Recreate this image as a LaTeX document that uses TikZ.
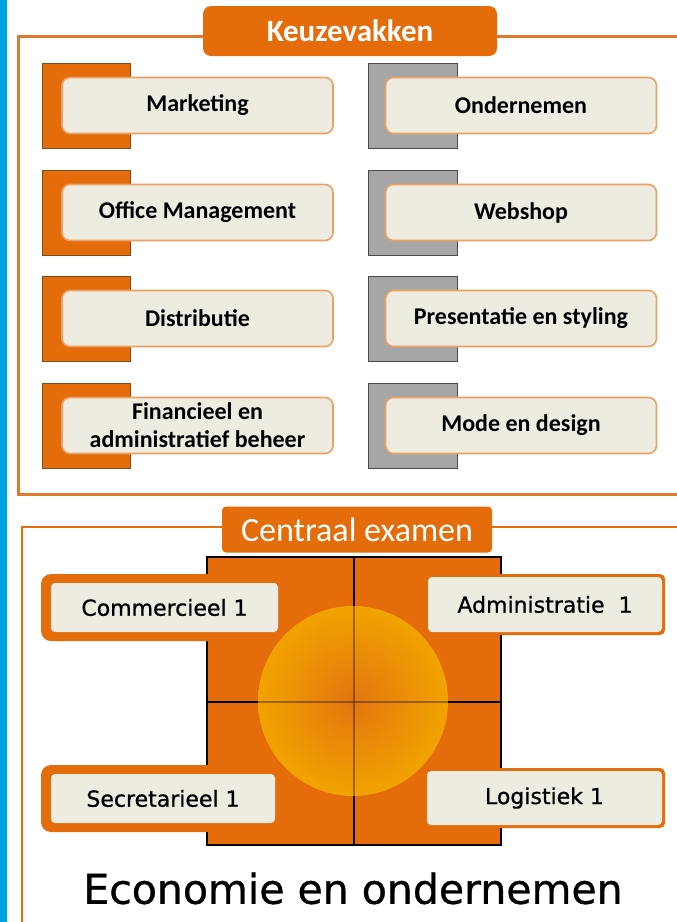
\documentclass[tikz,border=0pt]{standalone}
\usepackage{fontspec}
\newfontfamily\calibrifont{Carlito}
\newfontfamily\tahomafont[FakeBold=0.8]{DejaVu Sans}
\usetikzlibrary{positioning}
\definecolor{oranje}{HTML}{E46C0A}
\definecolor{kaderoranje}{HTML}{E3792A}
\definecolor{randoranje}{HTML}{EBA064}
\definecolor{bruin}{HTML}{7F4A1E}
\definecolor{grijs}{HTML}{A6A6A6}
\definecolor{donkergrijs}{HTML}{4A4A4A}
\definecolor{zand}{HTML}{EEECE1}
\definecolor{blauw}{HTML}{00A3E0}
\definecolor{amber}{HTML}{F2A300}
\definecolor{kern}{HTML}{E27510}

\begin{document}
\begin{tikzpicture}[x=1pt,y=-1pt,
    kader/.style={draw=kaderoranje,line width=3pt},
    kop/.style={fill=oranje,text=white,rounded corners=8pt,inner sep=0pt},
    vak/.style={draw=randoranje,line width=1.6pt,fill=zand,rounded corners=8pt,
        minimum width=271pt,minimum height=56pt,align=center,inner sep=0pt,
        font=\calibrifont\bfseries\fontsize{24}{28}\selectfont},
    blokoranje/.style={fill=oranje,draw=bruin,line width=1pt},
    blokgrijs/.style={fill=grijs,draw=donkergrijs,line width=1pt},
    rand/.style={fill=oranje,rounded corners=10pt,inner sep=0pt},
    examen/.style={fill=zand,rounded corners=4pt,inner sep=0pt,
        font=\tahomafont\fontsize{22}{26}\selectfont}]
\useasboundingbox (0,0) rectangle (677,922);
\fill[white] (0,0) rectangle (677,922);
\fill[blauw] (0,0) rectangle (7,922);

% keuzevakken
\draw[kader] (677,36) -- (18,36) -- (18,494) -- (677,494);
\node[kop,minimum width=294pt,minimum height=50pt,font=\calibrifont\bfseries\fontsize{31}{34}\selectfont]
    (keuze) at (350,31) {Keuzevakken};

\draw[blokoranje] (42,63) rectangle (130,148);
\draw[blokoranje] (42,170) rectangle (130,255);
\draw[blokoranje] (42,276) rectangle (130,361);
\draw[blokoranje] (42,383) rectangle (130,468);
\draw[blokgrijs] (368,63) rectangle (457,148);
\draw[blokgrijs] (368,170) rectangle (457,255);
\draw[blokgrijs] (368,276) rectangle (457,361);
\draw[blokgrijs] (368,383) rectangle (457,468);

\node[vak] (marketing) at (197.5,105.5) {Marketing};
\node[vak] (office) at (197.5,212.5) {Office Management};
\node[vak] (distributie) at (197.5,318.5) {Distributie};
\node[vak] (financieel) at (197.5,425.5) {Financieel en\\administratief beheer};
\node[vak] (ondernemen) at (521,105.5) {Ondernemen};
\node[vak] (webshop) at (521,212.5) {Webshop};
\node[vak] (presentatie) at (521,318.5) {Presentatie en styling};
\node[vak] (mode) at (521,425.5) {Mode en design};

% centraal examen
\draw[kader,draw=oranje,line width=2.5pt] (677,527) -- (22,527) -- (22,922);
\node[kop,rounded corners=4pt,minimum width=270pt,minimum height=46pt,font=\calibrifont\fontsize{34}{36}\selectfont]
    (centraal) at (357,529.5) {Centraal examen};

\fill[oranje] (207,557) rectangle (501,845);
\draw[black,line width=2.5pt] (207,557) rectangle (501,845);
\draw[black,line width=2.5pt] (354,557) -- (354,845);
\draw[black,line width=2.5pt] (207,702) -- (501,702);

\node[rand,minimum width=249pt,minimum height=67pt] (commrand) at (165.5,607.5) {};
\node[rand,minimum width=249pt,minimum height=67pt] (secrrand) at (165.5,798.5) {};
\node[rand,rounded corners=5pt,minimum width=245pt,minimum height=61pt] (admrand) at (542.5,604.5) {};
\node[rand,rounded corners=5pt,minimum width=245pt,minimum height=60pt] (logrand) at (542.5,798) {};

\shade[inner color=kern,outer color=amber] (353,701) circle (95pt);
\draw[black,opacity=0.35,line width=2.5pt] (354,606) -- (354,796);
\draw[black,opacity=0.35,line width=2.5pt] (258,702) -- (448,702);

\node[examen,minimum width=227pt,minimum height=49pt] (commercieel) at (164.5,607.5) {Commercieel 1};
\node[examen,minimum width=224pt,minimum height=49pt] (secretarieel) at (163,798.5) {Secretarieel 1};
\node[examen,minimum width=234pt,minimum height=55pt] (administratie) at (545,604.5) {Administratie\ \ 1};
\node[examen,minimum width=235pt,minimum height=54pt] (logistiek) at (544.5,798) {Logistiek 1};

\node[font=\tahomafont\fontsize{41}{44}\selectfont,inner sep=0pt] (economie) at (353,888.5) {Economie en ondernemen};
\end{tikzpicture}
\end{document}
